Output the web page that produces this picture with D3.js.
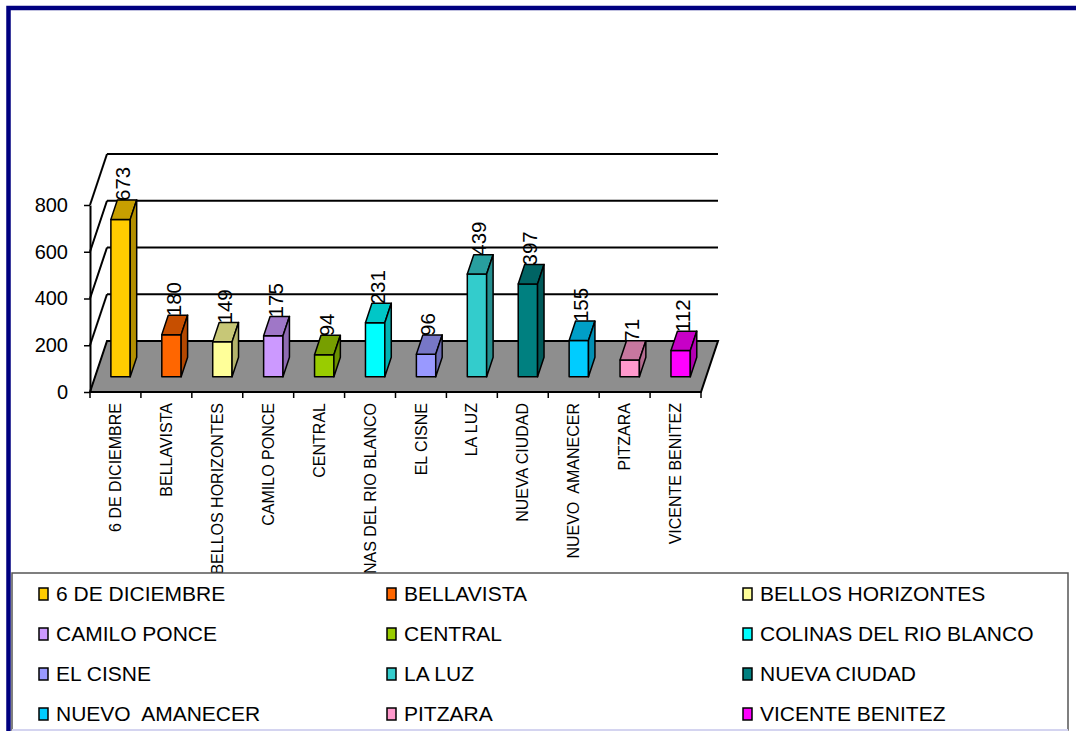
<!DOCTYPE html>
<html>
<head>
<meta charset="utf-8">
<script src="https://cdn.jsdelivr.net/npm/d3@7"></script>
<style>
  body { margin: 0; background: #fff; }
  text { font-family: 'Liberation Sans', Arial, sans-serif; fill: #000; white-space: pre; }
</style>
</head>
<body>
<div id="chart"></div>
<script>
/* global d3 */

// Data
const categories = ['6 DE DICIEMBRE', 'BELLAVISTA', 'BELLOS HORIZONTES', 'CAMILO PONCE', 'CENTRAL',
  'COLINAS DEL RIO BLANCO', 'EL CISNE', 'LA LUZ', 'NUEVA CIUDAD', 'NUEVO  AMANECER', 'PITZARA', 'VICENTE BENITEZ']
const values = [673, 180, 149, 175, 94, 231, 96, 439, 397, 155, 71, 112]
const colors = ['#FFCC00', '#FF6600', '#FFFF99', '#CC99FF', '#99CC00', '#00FFFF',
  '#9999FF', '#33CCCC', '#008080', '#00CCFF', '#FF99CC', '#FF00FF']
const yTicks = [0, 200, 400, 600, 800]

// Canvas
const width = 1076,
  height = 731,
  left = 90,
  right = 701,
  floorY = 392,
  wallHeight = 187,
  depthX = 17,
  depthY = -51

const svg = d3.select('#chart')
  .append('svg')
  .attr('width', width)
  .attr('height', height)

const x = d3.scaleBand()
  .domain(categories)
  .range([left, right])

const y = d3.scaleLinear()
  .domain([0, 800])
  .range([0, wallHeight])

const color = d3.scaleOrdinal()
  .domain(categories)
  .range(colors)

// fake 3d: d is the depth, 0 = front, 1 = back wall
const px = (xv, d) => xv + d * depthX
const py = (v, d) => floorY + d * depthY - y(v)
const poly = (pts) => pts.map(p => p.join(',')).join(' ')

// walls
yTicks.filter(v => v > 0).forEach(v => {
  svg.append('line')
    .attr('x1', px(left, 0)).attr('y1', py(v, 0))
    .attr('x2', px(left, 1)).attr('y2', py(v, 1))
    .attr('stroke', '#000').attr('stroke-width', 2)
  svg.append('line')
    .attr('x1', px(left, 1)).attr('y1', py(v, 1))
    .attr('x2', px(right, 1)).attr('y2', py(v, 1))
    .attr('stroke', '#000').attr('stroke-width', 2)
})

// floor
svg.append('polygon')
  .attr('points', poly([
    [px(left, 0), py(0, 0)], [px(right, 0), py(0, 0)],
    [px(right, 1), py(0, 1)], [px(left, 1), py(0, 1)]
  ]))
  .attr('fill', '#8e8e8e')
  .attr('stroke', '#000')
  .attr('stroke-width', 2)

// y axis
const yFront = d3.scaleLinear()
  .domain([0, 800])
  .range([floorY, floorY - wallHeight])

const yAxis = svg.append('g')
  .attr('transform', `translate(${left}, 0)`)
  .call(d3.axisLeft(yFront).tickValues(yTicks).tickSize(6).tickSizeOuter(0).tickPadding(16))
yAxis.select('.domain').attr('stroke', '#000').attr('stroke-width', 2)
yAxis.selectAll('.tick line').attr('stroke', '#000').attr('stroke-width', 1.5)
yAxis.selectAll('.tick text')
  .style('font-size', '20px')
  .style('font-family', "'Liberation Sans', Arial, sans-serif")
  .attr('fill', '#000')

// x axis ticks at band edges
const edges = categories.map(c => x(c)).concat([right])
svg.selectAll('.xtick')
  .data(edges)
  .enter()
  .append('line')
  .attr('class', 'xtick')
  .attr('x1', d => d).attr('x2', d => d)
  .attr('y1', floorY).attr('y2', floorY + 6)
  .attr('stroke', '#000').attr('stroke-width', 1.5)

svg.selectAll('.xlabel')
  .data(categories)
  .enter()
  .append('text')
  .attr('class', 'xlabel')
  .attr('transform', d => `translate(${x(d) + x.bandwidth() / 2}, 403) rotate(-90)`)
  .attr('text-anchor', 'end')
  .attr('dy', '0.35em')
  .style('font-size', '16px')
  .text(d => d)

// bars
const d0 = 0.3,
  d1 = 0.68,
  barFrac = 0.38

const bars = svg.selectAll('.bar')
  .data(categories.map((c, i) => ({ c, v: values[i] })))
  .enter()
  .append('g')
  .attr('class', 'bar')

bars.each(function (d) {
  const g = d3.select(this)
  const cx = x(d.c) + x.bandwidth() / 2
  const w = x.bandwidth() * barFrac
  const xl = cx - w / 2,
    xr = cx + w / 2
  const base = d3.color(color(d.c))

  g.append('polygon')
    .attr('points', poly([
      [px(xl, d0), py(0, d0)], [px(xr, d0), py(0, d0)],
      [px(xr, d0), py(d.v, d0)], [px(xl, d0), py(d.v, d0)]
    ]))
    .attr('fill', base.formatHex())
  g.append('polygon')
    .attr('points', poly([
      [px(xl, d0), py(d.v, d0)], [px(xr, d0), py(d.v, d0)],
      [px(xr, d1), py(d.v, d1)], [px(xl, d1), py(d.v, d1)]
    ]))
    .attr('fill', base.darker(0.7).formatHex())
  g.append('polygon')
    .attr('points', poly([
      [px(xr, d0), py(0, d0)], [px(xr, d0), py(d.v, d0)],
      [px(xr, d1), py(d.v, d1)], [px(xr, d1), py(0, d1)]
    ]))
    .attr('fill', base.darker(1).formatHex())
  g.selectAll('polygon')
    .attr('stroke', '#000')
    .attr('stroke-width', 1.5)
    .attr('stroke-linejoin', 'round')
})

// value labels
bars.append('text')
  .attr('transform', d => {
    const cx = x(d.c) + x.bandwidth() / 2
    return `translate(${px(cx, (d0 + d1) / 2) - 1}, ${py(d.v, d1) + 1}) rotate(-90)`
  })
  .attr('dy', '0.35em')
  .style('font-size', '20.5px')
  .text(d => d.v)

// legend
const legend = svg.append('g')
legend.append('rect')
  .attr('x', 12).attr('y', 573)
  .attr('width', 1056).attr('height', 157)
  .attr('fill', '#fff')
  .attr('stroke', '#555')
  .attr('stroke-width', 1.5)
legend.append('line')
  .attr('x1', 12).attr('x2', 1068)
  .attr('y1', 730).attr('y2', 730)
  .attr('stroke', '#d4d4f0').attr('stroke-width', 2)

const colX = [39, 387, 743],
  rowY = [594, 634, 674, 714]

const items = legend.selectAll('.item')
  .data(categories)
  .enter()
  .append('g')
  .attr('class', 'item')
  .attr('transform', (d, i) => `translate(${colX[i % 3]}, ${rowY[Math.floor(i / 3)]})`)

items.append('rect')
  .attr('x', 0).attr('y', -6)
  .attr('width', 9).attr('height', 12)
  .attr('fill', d => color(d))
  .attr('stroke', '#000')
  .attr('stroke-width', 1.5)

items.append('text')
  .attr('x', 17)
  .attr('y', 7)
  .style('font-size', '21px')
  .text(d => d)

// blue frame
svg.append('rect')
  .attr('x', 8.5).attr('y', 8)
  .attr('width', 1200).attr('height', 900)
  .attr('fill', 'none')
  .attr('stroke', '#000080')
  .attr('stroke-width', 4.5)
</script>
</body>
</html>
